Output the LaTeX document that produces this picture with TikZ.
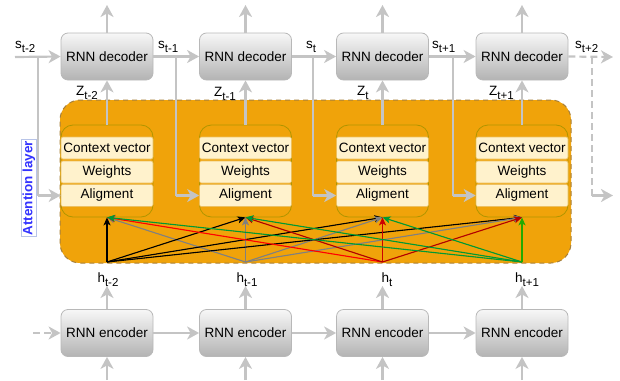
\documentclass[tikz,border=0pt]{standalone}
\usepackage{fontspec}
\setmainfont{Liberation Sans}
\usetikzlibrary{arrows.meta}

\definecolor{flowgray}{HTML}{C4C4C4}
\definecolor{boxedge}{HTML}{B8B8B8}
\definecolor{decotop}{HTML}{F7F7F7}
\definecolor{decobot}{HTML}{B3B3B3}
\definecolor{attfill}{HTML}{F0A30A}
\definecolor{attedge}{HTML}{A8803A}
\definecolor{blkedge}{HTML}{B09500}
\definecolor{rowfill}{HTML}{FFF2CC}
\definecolor{rowedge}{HTML}{EDC060}
\definecolor{lblblue}{HTML}{3333FF}
\definecolor{lblbox}{HTML}{B8C4E8}
\definecolor{wgray}{HTML}{808080}
\definecolor{wred}{HTML}{FF0000}
\definecolor{wdred}{HTML}{B20000}
\definecolor{wmred}{HTML}{CC0000}
\definecolor{wgreen}{HTML}{009933}
\definecolor{wlgreen}{HTML}{22AA00}

% lowered subscript in the running font
\newcommand\lsub[1]{\raisebox{-4pt}{\fontsize{11.5}{12}\selectfont #1}}

\begin{document}
\begin{tikzpicture}[x=1pt,y=-1pt,
  txt/.style={font=\fontsize{13.5}{15}\selectfont},
  rnn/.style={txt, rounded corners=7pt, draw=boxedge, line width=0.8pt,
    top color=decotop, bottom color=decobot,
    minimum width=92pt, minimum height=47pt, inner sep=0pt},
  attbox/.style={draw=attedge, dash pattern=on 5pt off 4pt, line width=1pt,
    fill=attfill, rounded corners=20pt, minimum width=511pt, minimum height=163pt},
  block/.style={draw=blkedge, line width=0.8pt, fill=attfill, rounded corners=12pt,
    minimum width=92pt, minimum height=92pt},
  row/.style={txt, draw=rowedge, line width=0.6pt, fill=rowfill, rounded corners=2pt,
    minimum width=92pt, minimum height=22pt, inner sep=0pt},
  lbl/.style={txt, inner sep=0pt},
  flow/.style={draw=flowgray, line width=2.2pt,
    -{Stealth[length=12pt,width=13pt,inset=3.5pt]}},
  dflow/.style={flow, dash pattern=on 7pt off 4pt},
  plain/.style={draw=flowgray, line width=2.2pt},
  dplain/.style={plain, dash pattern=on 7pt off 4pt},
  wt/.style={line width=1.1pt, -{Stealth[length=8pt,width=7pt,inset=2pt]}}
]
\useasboundingbox (0,0) rectangle (620,380);

% attention layer background
\node[attbox] (att) at (315.5,181.5) {};
\node[txt, rotate=90, font=\fontsize{13.5}{15}\selectfont\bfseries, text=lblblue,
  fill=white, draw=lblbox, line width=0.6pt, inner sep=1.5pt] (attlbl) at (29,188) {Attention layer};

% decoders, attention blocks, encoders
\foreach \i/\x in {1/107,2/245.5,3/382.5,4/522}{
  \node[rnn] (dec\i) at (\x,56.5) {RNN decoder};
  \node[block] (blk\i) at (\x,171) {};
  \node[row] (ctx\i) at (\x,148) {Context vector};
  \node[row] (wgt\i) at (\x,172) {Weights};
  \node[row] (ali\i) at (\x,195.5) {Aligment};
  \node[rnn] (enc\i) at (\x,333) {RNN encoder};
  \coordinate (out\i) at (\x,5);
  \coordinate (in\i) at (\x,380);
  \coordinate (h\i) at (\x,286);
  \coordinate (src\i) at (\x,262);
  \draw[flow] (dec\i.north) -- (out\i);
  \draw[flow] (blk\i.north) -- (dec\i.south);
  \draw[flow] (in\i) -- (enc\i.south);
  \draw[flow] (enc\i.north) -- (h\i);
}

% decoder state chain with branches into the alignment rows
\coordinate (s0) at (15,57);
\coordinate (b0) at (38,57);
\coordinate (c0) at (38,195.5);
\draw[flow] (s0) -- (dec1.west);
\draw[plain] (b0) -- (c0);
\draw[flow] (c0) -- (ali1.west);
\foreach \i/\j/\bx in {1/2/176,2/3/313,3/4/453}{
  \coordinate (b\i) at (\bx,57);
  \coordinate (c\i) at (\bx,195.5);
  \draw[flow] (dec\i.east) -- (dec\j.west);
  \draw[plain] (b\i) -- (c\i);
  \draw[flow] (c\i) -- (ali\j.west);
}
\coordinate (b4) at (592,57);
\coordinate (e4) at (613,57);
\coordinate (c4) at (592,195.5);
\coordinate (f4) at (613,195.5);
\draw[dflow] (dec4.east) -- (e4);
\draw[dplain] (b4) -- (c4);
\draw[flow] (c4) -- (f4);

% encoder chain
\coordinate (e0) at (33,333);
\draw[dflow] (e0) -- (enc1.west);
\foreach \i/\j in {1/2,2/3,3/4}{
  \draw[flow] (enc\i.east) -- (enc\j.west);
}

% labels
\node[lbl, anchor=base west] (ls0) at (15,48) {s\lsub{t-2}};
\node[lbl, anchor=base west] (ls1) at (158,48) {s\lsub{t-1}};
\node[lbl, anchor=base west] (ls2) at (306,48) {s\lsub{t}};
\node[lbl, anchor=base west] (ls3) at (432,48) {s\lsub{t+1}};
\node[lbl, anchor=base west] (ls4) at (575,48) {s\lsub{t+2}};
\node[lbl, anchor=base west] (lz1) at (76,95) {Z\lsub{t-2}};
\node[lbl, anchor=base west] (lz2) at (214,96) {Z\lsub{t-1}};
\node[lbl, anchor=base west] (lz3) at (357,95) {Z\lsub{t}};
\node[lbl, anchor=base west] (lz4) at (489,95) {Z\lsub{t+1}};
\node[lbl, anchor=base] (lh1) at (108,282) {h\lsub{t-2}};
\node[lbl, anchor=base] (lh2) at (247,282) {h\lsub{t-1}};
\node[lbl, anchor=base] (lh3) at (387,282) {h\lsub{t}};
\node[lbl, anchor=base] (lh4) at (527,282) {h\lsub{t+1}};

% attention weights from every encoder state to every block
\foreach \t in {1,2,3,4}{
  \draw[wt, draw=black, fill=black] (src1) -- (blk\t.south);
  \draw[wt, draw=wgray, fill=wgray] (src2) -- (blk\t.south);
}
\draw[wt, draw=wred, fill=wred] (src3) -- (blk1.south);
\draw[wt, draw=wdred, fill=wdred] (src3) -- (blk2.south);
\draw[wt, draw=wmred, fill=wmred] (src3) -- (blk3.south);
\draw[wt, draw=wdred, fill=wdred] (src3) -- (blk4.south);
\draw[wt, draw=wgreen, fill=wgreen] (src4) -- (blk1.south);
\draw[wt, draw=wgreen, fill=wgreen] (src4) -- (blk2.south);
\draw[wt, draw=wgreen, fill=wgreen] (src4) -- (blk3.south);
\draw[wt, draw=wlgreen, fill=wlgreen] (src4) -- (blk4.south);
\end{tikzpicture}
\end{document}
